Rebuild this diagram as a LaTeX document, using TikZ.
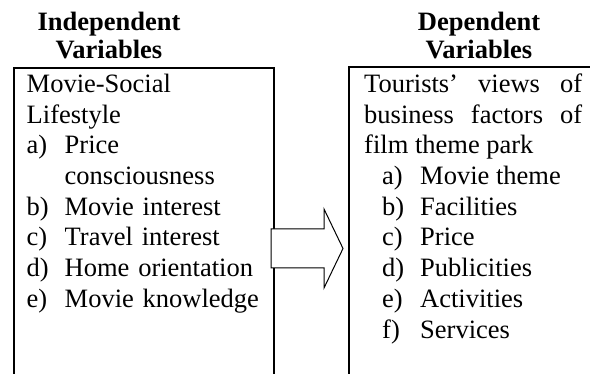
\documentclass[tikz,border=0pt]{standalone}
\usepackage{fontspec}
\setmainfont{Liberation Serif}

\tikzset{
	varbox/.style={draw, line width=1.6pt, inner sep=0pt, anchor=north west},
	headtext/.style={font=\fontsize{26.5pt}{28pt}\selectfont\bfseries, align=center, inner sep=0pt, anchor=north},
	boxtext/.style={font=\fontsize{26.5pt}{30.7pt}\selectfont, inner sep=0pt, anchor=north west},
	blockarrow/.style={draw, fill=white, line width=1pt, line join=miter}
}

\newcommand{\leftitem}[2]{\par\noindent\makebox[38pt][l]{#1}#2}
\newcommand{\rightitem}[2]{\par\noindent\hspace*{18pt}\makebox[38pt][l]{#1}#2}

\begin{document}
\begin{tikzpicture}[x=1pt,y=1pt]
	% Frame of the page
	\useasboundingbox (0,0) rectangle (590,-374);
	\clip (0,0) rectangle (590,-374);

	% Boxes (they run past the lower and right edge)
	\node[varbox, minimum width=260pt, minimum height=340pt] (indepbox) at (13,-67) {};
	\node[varbox, minimum width=300pt, minimum height=340pt] (depbox) at (348,-66.5) {};

	% Headings
	\node[headtext] (indephead) at (109,-12.1) {Independent\\Variables};
	\node[headtext] (dephead) at (479,-12.1) {Dependent\\Variables};

	% Contents of the boxes
	\node[boxtext, text width=240pt, align=left] (indeptext) at (26.5,-73.9) {Movie-Social\par Lifestyle
		\leftitem{a)}{Price}
		\par\noindent\hspace*{38pt}consciousness
		\leftitem{b)}{Movie interest}
		\leftitem{c)}{Travel interest}
		\leftitem{d)}{Home orientation}
		\leftitem{e)}{Movie knowledge}};
	\node[boxtext, text width=218pt, align=justify] (deptext) at (364,-73.6) {\tolerance=9999 \hyphenpenalty=10000
		Tourists’ views of business factors of film theme park
		\rightitem{a)}{Movie theme}
		\rightitem{b)}{Facilities}
		\rightitem{c)}{Price}
		\rightitem{d)}{Publicities}
		\rightitem{e)}{Activities}
		\rightitem{f)}{Services}};

	% Block arrow from the independent to the dependent box
	\draw[blockarrow] (271,-229) -- (324,-229) -- (324,-209) -- (343,-248.5) -- (324,-288) -- (324,-268) -- (271,-268) -- cycle;
\end{tikzpicture}
\end{document}
